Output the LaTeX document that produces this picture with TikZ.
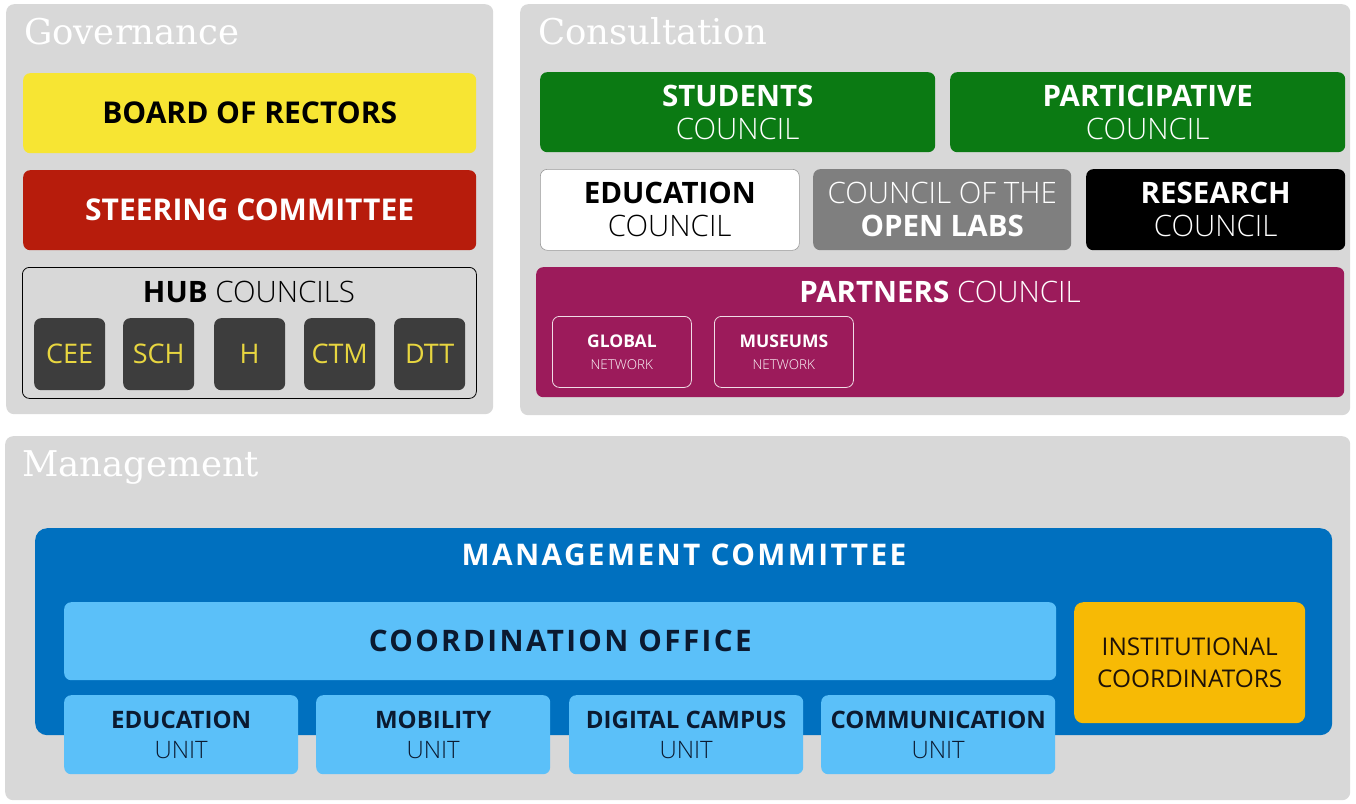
\documentclass[tikz,border=0pt]{standalone}
\usepackage{fontspec}
\setmainfont{Open Sans}
\newfontfamily\lightfont{Open Sans Light}
\newfontfamily\titlefont{DejaVu Serif}
\newfontfamily\spacedfont{Open Sans}[LetterSpace=8]
\definecolor{panelgray}{HTML}{D8D8D8}
\definecolor{boardyellow}{HTML}{F7E533}
\definecolor{steerred}{HTML}{B71C0C}
\definecolor{hubdark}{HTML}{3D3D3D}
\definecolor{hubtext}{HTML}{E8D640}
\definecolor{councilgreen}{HTML}{0B7A13}
\definecolor{labsgray}{HTML}{7F7F7F}
\definecolor{partnerpurple}{HTML}{9C1B5B}
\definecolor{mgmtblue}{HTML}{0070BF}
\definecolor{officeblue}{HTML}{5BC0F9}
\definecolor{instorange}{HTML}{F7BA05}
\definecolor{navytext}{HTML}{0B1A30}
\definecolor{insttext}{HTML}{1E1208}
\tikzset{
  panel/.style={fill=panelgray, rounded corners=8pt, inner sep=0pt, anchor=north west},
  box/.style={rounded corners=7pt, inner sep=0pt, anchor=north west, align=center},
  sectitle/.style={anchor=base west, inner sep=0pt, text=white, font=\titlefont\fontsize{35.5}{38}\selectfont},
  hubbox/.style={box, fill=hubdark, text=hubtext, minimum width=71pt, minimum height=72pt, font=\fontsize{27}{30}\selectfont},
  cbox/.style={box, font=\fontsize{29.5}{33}\selectfont},
  netbox/.style={box, draw=white!85!partnerpurple, line width=0.8pt, text=white, minimum width=139pt, minimum height=71pt, font=\lightfont\fontsize{13.5}{22}\selectfont},
  unitbox/.style={box, fill=officeblue, text=navytext, minimum width=234pt, minimum height=79pt, font=\fontsize{24}{30}\selectfont},
}
\begin{document}
\begin{tikzpicture}[x=1pt,y=-1pt]
\useasboundingbox (0,0) rectangle (1356,803);
% panels
\node[panel, minimum width=487pt, minimum height=410pt] (gov) at (6,4) {};
\node[panel, minimum width=830pt, minimum height=411pt] (cons) at (520,4) {};
\node[panel, minimum width=1345pt, minimum height=364pt] (mgmt) at (5,436) {};
\node[sectitle] (govt) at (24,44) {Governance};
\node[sectitle] (const) at (538,44) {Consultation};
\node[sectitle] (mgmtt) at (22,476) {Management};
% governance
\node[box, fill=boardyellow, minimum width=453pt, minimum height=80pt, font=\bfseries\fontsize{30}{32}\selectfont] (board) at (23,73) {BOARD OF RECTORS};
\node[box, fill=steerred, text=white, minimum width=453pt, minimum height=80pt, font=\bfseries\fontsize{30}{32}\selectfont] (steer) at (23,170) {STEERING COMMITTEE};
\node[box, draw=black, line width=0.8pt, fill=panelgray, minimum width=454pt, minimum height=131pt] (hub) at (22,267) {};
\node[anchor=base, inner sep=0pt, font=\fontsize{29.5}{32}\selectfont] (hubt) at (249,302) {\textbf{HUB} {\lightfont COUNCILS}};
\node[hubbox] (cee) at (34,318) {CEE};
\node[hubbox] (sch) at (123,318) {SCH};
\node[hubbox] (h) at (214,318) {H};
\node[hubbox] (ctm) at (304,318) {CTM};
\node[hubbox] (dtt) at (394,318) {DTT};
% consultation
\node[cbox, fill=councilgreen, text=white, minimum width=395pt, minimum height=80pt] (students) at (540,72) {\textbf{STUDENTS}\\{\lightfont COUNCIL}};
\node[cbox, fill=councilgreen, text=white, minimum width=395pt, minimum height=80pt] (partic) at (950,72) {\textbf{PARTICIPATIVE}\\{\lightfont COUNCIL}};
\node[cbox, fill=white, draw=black!40, line width=0.6pt, text=black, minimum width=259pt, minimum height=81pt] (educ) at (540,169) {\textbf{EDUCATION}\\{\lightfont COUNCIL}};
\node[cbox, fill=labsgray, text=white, minimum width=258pt, minimum height=81pt] (labs) at (813,169) {{\lightfont COUNCIL OF THE}\\\textbf{OPEN LABS}};
\node[cbox, fill=black, text=white, minimum width=259pt, minimum height=81pt] (research) at (1086,169) {\textbf{RESEARCH}\\{\lightfont COUNCIL}};
\node[box, fill=partnerpurple, minimum width=808pt, minimum height=130pt] (partners) at (536,267) {};
\node[anchor=base, inner sep=0pt, text=white, font=\fontsize{29.5}{32}\selectfont] (partnerst) at (940,302) {\textbf{PARTNERS} {\lightfont COUNCIL}};
\node[netbox] (global) at (552,316) {{\normalfont\bfseries\fontsize{17.5}{18}\selectfont GLOBAL}\\NETWORK};
\node[netbox] (museums) at (714,316) {{\normalfont\bfseries\fontsize{17.5}{18}\selectfont MUSEUMS}\\NETWORK};
% management
\node[box, fill=mgmtblue, rounded corners=12pt, minimum width=1297pt, minimum height=207pt] (committee) at (35,528) {};
\node[anchor=base, inner sep=0pt, text=white, font=\spacedfont\bfseries\fontsize{29.8}{32}\selectfont] (committeet) at (684,565) {MANAGEMENT COMMITTEE};
\node[box, fill=officeblue, text=navytext, minimum width=992pt, minimum height=78pt, font=\spacedfont\bfseries\fontsize{29.6}{32}\selectfont] (office) at (64,602) {COORDINATION OFFICE};
\node[unitbox] (eduunit) at (64,695) {\textbf{EDUCATION}\\{\lightfont UNIT}};
\node[unitbox] (mobunit) at (316,695) {\textbf{MOBILITY}\\{\lightfont UNIT}};
\node[unitbox] (digunit) at (569,695) {\textbf{DIGITAL CAMPUS}\\{\lightfont UNIT}};
\node[unitbox] (comunit) at (821,695) {\textbf{COMMUNICATION}\\{\lightfont UNIT}};
\node[box, fill=instorange, text=insttext, rounded corners=9pt, minimum width=231pt, minimum height=121pt, font=\fontsize{24.4}{32}\selectfont] (inst) at (1074,602) {INSTITUTIONAL\\COORDINATORS};
\end{tikzpicture}
\end{document}
